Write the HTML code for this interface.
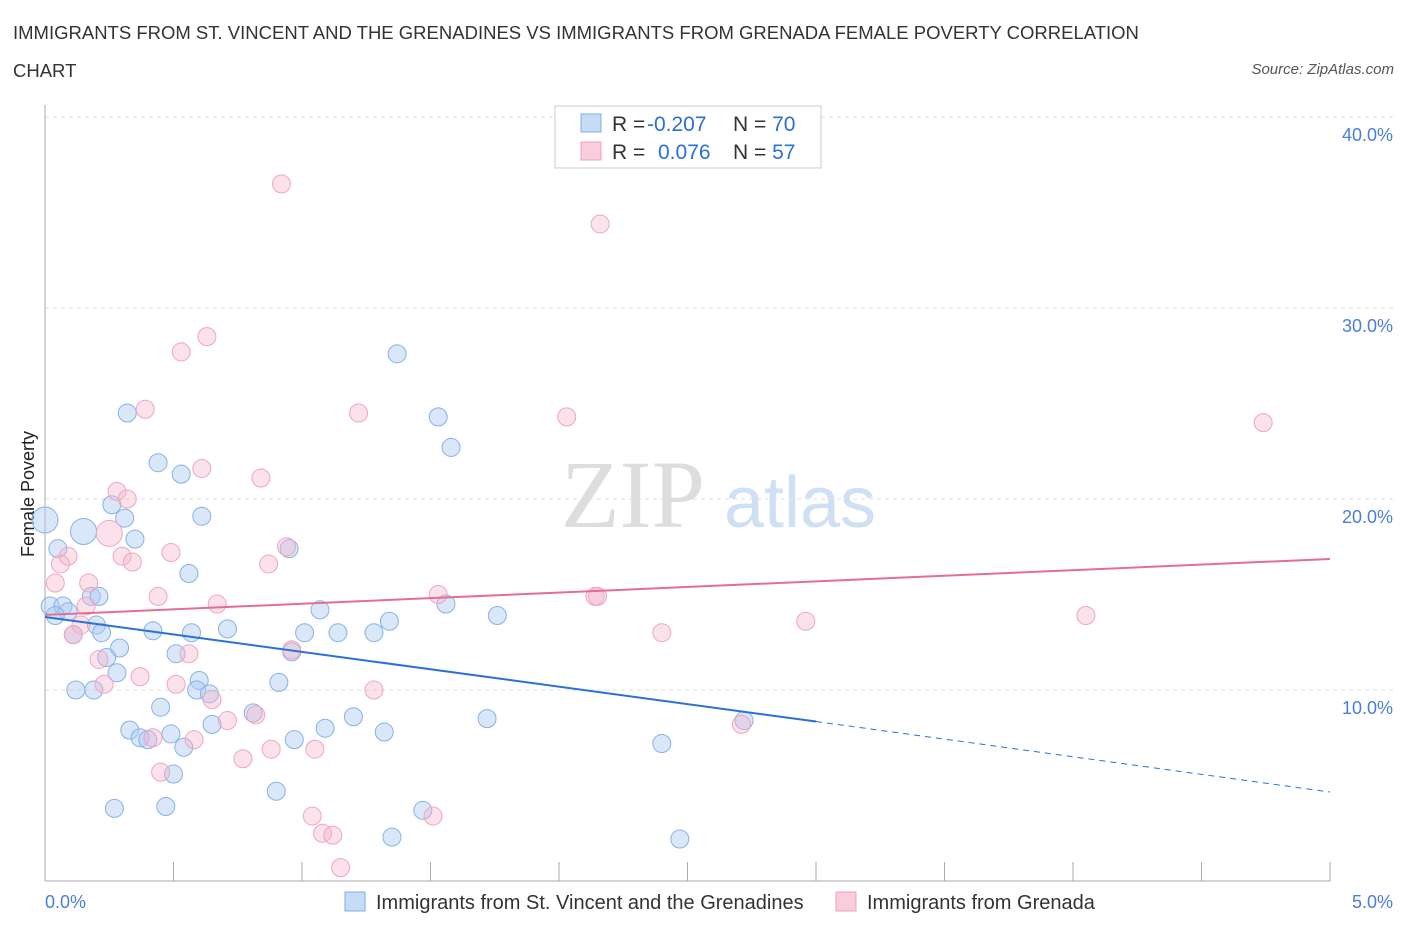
<!DOCTYPE html>
<html><head><meta charset="utf-8">
<style>
body{margin:0;background:#fff;font-family:"Liberation Sans",sans-serif;}
#wrap{position:relative;width:1406px;height:930px;overflow:hidden;}
.t{position:absolute;white-space:nowrap;}
</style></head>
<body>
<div id="wrap">
<div class="t" style="left:13px;top:14px;font-size:18.5px;color:#333;line-height:38px;">IMMIGRANTS FROM ST. VINCENT AND THE GRENADINES VS IMMIGRANTS FROM GRENADA FEMALE POVERTY CORRELATION<br>CHART</div>
<div class="t" style="right:12px;top:61px;font-size:15px;color:#555;font-style:italic;">Source: ZipAtlas.com</div>
<svg id="svg" width="1406" height="930" style="position:absolute;left:0;top:0"></svg>
</div>
<script>
const blueX=[0,0.15,0.05,0.02,0.07,0.09,0.04,0.18,0.21,0.2,0.22,0.11,0.29,0.24,0.28,0.12,0.19,0.32,0.44,0.53,0.26,0.31,0.35,0.61,0.56,0.42,0.57,0.71,0.51,0.6,0.59,0.64,0.45,0.33,0.37,0.4,0.49,0.54,0.65,0.5,0.27,0.47,0.91,0.81,0.97,0.9,0.95,0.96,1.01,1.07,1.14,1.09,1.2,1.28,1.34,1.32,1.37,1.53,1.58,1.56,1.76,1.72,1.47,1.35,2.4,2.47,2.72];
const blueY=[18.9,18.3,17.4,14.4,14.4,14.1,13.9,14.9,14.9,13.4,13.0,12.9,12.2,11.7,10.9,10.0,10.0,24.5,21.9,21.3,19.7,19.0,17.9,19.1,16.1,13.1,13.0,13.2,11.9,10.5,10.0,9.8,9.1,7.9,7.5,7.4,7.7,7.0,8.2,5.6,3.8,3.9,10.4,8.8,7.4,4.7,17.4,12.0,13.0,14.2,13.0,8.0,8.6,13.0,13.6,7.8,27.6,24.3,22.7,14.5,13.9,8.5,3.7,2.3,7.2,2.2,8.4];
const pinkX=[0.92,2.16,0.63,0.53,0.39,1.22,2.03,4.74,0.61,0.84,0.28,0.32,0.25,0.09,0.06,0.04,0.17,0.3,0.34,0.49,0.87,0.94,0.44,0.67,1.53,2.14,2.15,0.16,0.14,0.11,0.96,0.56,2.4,2.96,4.05,0.21,0.37,0.23,0.51,1.28,0.65,0.71,0.82,2.71,0.42,0.58,0.77,0.88,1.05,0.45,1.04,1.08,1.12,1.51,1.15];
const pinkY=[36.5,34.4,28.5,27.7,24.7,24.5,24.3,24.0,21.6,21.1,20.4,20.0,18.2,17.0,16.6,15.6,15.6,17.0,16.7,17.2,16.6,17.5,14.9,14.5,15.0,14.9,14.9,14.4,13.4,12.9,12.1,11.9,13.0,13.6,13.9,11.6,10.7,10.3,10.3,10.0,9.5,8.4,8.7,8.2,7.5,7.4,6.4,6.9,6.9,5.7,3.4,2.5,2.4,3.4,0.7];
const blueBig=[0,1];const pinkBig=[12];
const blueTrend=[0,13.82,3.0,8.35,5,4.66];
const pinkTrend=[0,13.93,5,16.86];
const yTicks=[10,20,30,40];const yLabels=["10.0%","20.0%","30.0%","40.0%"];
const xTicks=[0,0.5,1,1.5,2,2.5,3,3.5,4,4.5,5];
const xs=v=>45+v*257, ys=v=>881-v*19.1;
const svg=document.getElementById('svg');const NS='http://www.w3.org/2000/svg';
function mk(tag,a,parent){const e=document.createElementNS(NS,tag);for(const k in a)e.setAttribute(k,a[k]);(parent||svg).appendChild(e);return e;}
yTicks.forEach((t,i)=>{const g=mk('line',{x1:45,x2:1395,y1:ys(t),y2:ys(t),stroke:'#ddd','stroke-dasharray':'4,4'});

const tx=mk('text',{x:1393,y:ys(t)+24,'text-anchor':'end','font-size':18,fill:'#4a7fd6','font-family':'Liberation Sans'});tx.textContent=yLabels[i];
});
const ya=mk('line',{x1:45,x2:45,y1:105,y2:881,stroke:'#aaa'});
const xa=mk('line',{x1:45,x2:1330,y1:881,y2:881,stroke:'#aaa'});
xTicks.forEach(t=>{const l=mk('line',{x1:xs(t),x2:xs(t),y1:862,y2:881,stroke:'#aaa'});});
[['0.0%',45,'start'],['5.0%',1393,'end']].forEach(a=>{const t=mk('text',{x:a[1],y:908,'text-anchor':a[2],'font-size':18,fill:'#4a7fd6','font-family':'Liberation Sans'});t.textContent=a[0];});
const yt=mk('text',{x:34,y:494,'text-anchor':'middle','font-size':18,fill:'#222',transform:'rotate(-90 34 494)','font-family':'Liberation Sans'});yt.textContent='Female Poverty';
const w1=mk('text',{x:633,y:527,'text-anchor':'middle','font-size':96,fill:'#ddd','font-family':'Liberation Serif'});w1.textContent='ZIP';
const w2=mk('text',{x:800,y:527,'text-anchor':'middle','font-size':72,fill:'#cfe0f5','font-family':'Liberation Sans'});w2.textContent='atlas';
blueX.forEach((x,i)=>{const c=mk('circle',{cx:xs(x),cy:ys(blueY[i]),r:blueBig.includes(i)?13:9,fill:'rgba(170,202,242,0.45)',stroke:'#86b2e6','stroke-width':1});});
pinkX.forEach((x,i)=>{const c=mk('circle',{cx:xs(x),cy:ys(pinkY[i]),r:pinkBig.includes(i)?13:9,fill:'rgba(246,180,203,0.4)',stroke:'#efa6c0','stroke-width':1});});
const bt=mk('line',{x1:xs(blueTrend[0]),y1:ys(blueTrend[1]),x2:xs(blueTrend[2]),y2:ys(blueTrend[3]),stroke:'#2a70d6','stroke-width':2});
const bd=mk('line',{x1:xs(blueTrend[2]),y1:ys(blueTrend[3]),x2:xs(blueTrend[4]),y2:ys(blueTrend[5]),stroke:'#2a70d6','stroke-width':1,'stroke-dasharray':'6,5'});
const pt=mk('line',{x1:xs(pinkTrend[0]),y1:ys(pinkTrend[1]),x2:xs(pinkTrend[2]),y2:ys(pinkTrend[3]),stroke:'#e56d94','stroke-width':2});
const lb=mk('rect',{x:555,y:106,width:266,height:62,fill:'#fff',stroke:'#ccc'});
[[123,'rgba(160,196,240,0.6)','#7eaee6','-0.207','70'],[151,'rgba(245,172,197,0.6)','#eea0bc','0.076','57']].forEach(r=>{
const s=mk('rect',{x:581,y:r[0]-9,width:20,height:18,fill:r[1],stroke:r[2]});
const t=mk('text',{x:612,y:r[0]+8,'font-size':21,fill:'#333','font-family':'Liberation Sans'});
t.innerHTML='R = <tspan fill="#2a70d6" x="'+(r[3].length>5?647:658)+'">'+r[3]+'</tspan><tspan fill="#333" x="733">N = </tspan><tspan fill="#2a70d6">'+r[4]+'</tspan>';});
[[345,'rgba(160,196,240,0.6)','#7eaee6','Immigrants from St. Vincent and the Grenadines',376],[836,'rgba(245,172,197,0.6)','#eea0bc','Immigrants from Grenada',867]].forEach(r=>{
const s=mk('rect',{x:r[0],y:892,width:20,height:19,fill:r[1],stroke:r[2]});
const t=mk('text',{x:r[4],y:909,'font-size':20,fill:'#333','font-family':'Liberation Sans'});t.textContent=r[3];});
</script>
</body></html>
